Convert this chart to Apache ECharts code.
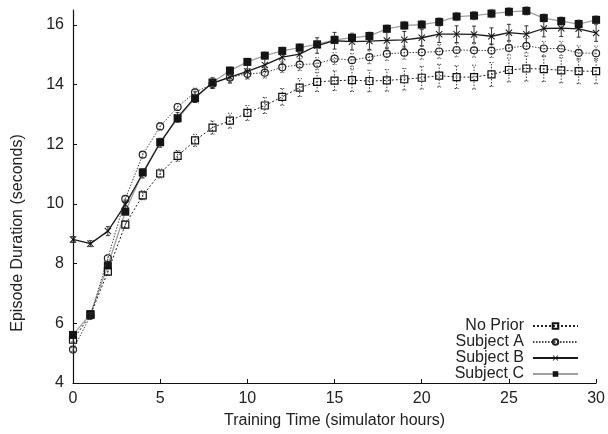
<!DOCTYPE html>
<html><head><meta charset="utf-8">
<script src="https://cdn.jsdelivr.net/npm/echarts@6/dist/echarts.min.js"></script>
<style>html,body{margin:0;padding:0;background:#fff}#c{width:608px;height:434px}</style>
</head><body><div id="c"></div>
<script>
const hours = [0,1,2,3,4,5,6,7,8,9,10,11,12,13,14,15,16,17,18,19,20,21,22,23,24,25,26,27,28,29,30];
const seriesNames = ['No Prior','Subject A','Subject B','Subject C'];
const noPrior  = [5.45,6.28,7.73,9.31,10.29,11.02,11.61,12.13,12.56,12.79,13.05,13.30,13.59,13.90,14.09,14.13,14.15,14.12,14.14,14.18,14.23,14.30,14.25,14.25,14.34,14.49,14.54,14.52,14.48,14.45,14.45];
const subjectA = [5.12,6.25,8.18,10.17,11.65,12.60,13.25,13.74,14.02,14.24,14.36,14.40,14.58,14.67,14.70,14.87,14.82,14.92,15.03,15.07,15.08,15.11,15.16,15.15,15.14,15.23,15.30,15.21,15.21,15.06,15.05];
const subjectB = [8.81,8.67,9.09,9.98,11.02,12.05,12.90,13.58,14.05,14.25,14.44,14.66,14.92,15.02,15.31,15.47,15.44,15.46,15.48,15.50,15.57,15.69,15.69,15.68,15.62,15.74,15.69,15.88,15.89,15.87,15.73];
const subjectC = [5.61,6.31,7.94,9.74,11.06,12.07,12.87,13.54,14.07,14.47,14.76,14.97,15.13,15.24,15.35,15.50,15.57,15.63,15.87,15.98,16.01,16.10,16.28,16.31,16.38,16.44,16.47,16.23,16.13,16.03,16.17];
const noPriorErr  = [0.08,0.10,0.12,0.12,0.15,0.15,0.18,0.20,0.22,0.25,0.25,0.27,0.28,0.30,0.32,0.33,0.38,0.36,0.36,0.36,0.38,0.38,0.38,0.40,0.40,0.40,0.42,0.42,0.42,0.42,0.42];
const subjectAErr = [0.06,0.08,0.10,0.10,0.10,0.12,0.12,0.14,0.15,0.16,0.18,0.18,0.18,0.20,0.20,0.20,0.22,0.22,0.22,0.22,0.23,0.23,0.23,0.23,0.23,0.24,0.24,0.24,0.24,0.24,0.24];
const subjectBErr = [0.10,0.10,0.15,0.15,0.15,0.15,0.16,0.18,0.18,0.20,0.22,0.22,0.24,0.25,0.26,0.28,0.28,0.28,0.28,0.28,0.28,0.28,0.28,0.28,0.28,0.28,0.28,0.28,0.28,0.28,0.28];
const subjectCErr = [0.06,0.06,0.08,0.08,0.10,0.10,0.10,0.10,0.12,0.12,0.12,0.12,0.12,0.13,0.13,0.13,0.13,0.13,0.13,0.14,0.14,0.14,0.14,0.14,0.14,0.14,0.14,0.14,0.14,0.14,0.14];
const xTicks = [0,5,10,15,20,25,30];
const yTicks = [4,6,8,10,12,14,16];

const FONT = 'Liberation Sans';
const TXT = '#222';

function pairs(vals){ return hours.map((h,i)=>[h, vals[i]]); }
function errData(vals, errs){ return hours.map((h,i)=>[h, vals[i]-errs[i], vals[i]+errs[i]]); }
function errRender(color, dash, width){
  return function(params, api){
    const x = api.value(0);
    const lo = api.coord([x, api.value(1)]);
    const hi = api.coord([x, api.value(2)]);
    const w = 2;
    const st = {stroke: color, lineWidth: width, lineDash: dash, fill: null};
    return {type:'group', children:[
      {type:'line', shape:{x1:lo[0], y1:lo[1], x2:hi[0], y2:hi[1]}, style: st},
      {type:'line', shape:{x1:lo[0]-w, y1:lo[1], x2:lo[0]+w, y2:lo[1]}, style: st},
      {type:'line', shape:{x1:hi[0]-w, y1:hi[1], x2:hi[0]+w, y2:hi[1]}, style: st}
    ]};
  };
}
const xMark = 'path://M0,1 L1,0 L5,4 L9,0 L10,1 L6,5 L10,9 L9,10 L5,6 L1,10 L0,9 L4,5 Z';

const chart = echarts.init(document.getElementById('c'), null, {renderer:'canvas'});
chart.setOption({
  animation: false,
  backgroundColor: '#fff',
  textStyle: {fontFamily: FONT},
  grid: {left: 73, right: 11, top: 10, bottom: 50, containLabel: false},
  xAxis: {
    type: 'value', min: 0, max: 30, interval: 5,
    axisLine: {show: true, lineStyle: {color: '#111', width: 1.2}},
    axisTick: {inside: true, length: 4, lineStyle: {color: '#111'}, customValues: xTicks},
    axisLabel: {color: TXT, fontSize: 16, fontFamily: FONT, margin: 8, customValues: xTicks},
    splitLine: {show: false},
    name: 'Training Time (simulator hours)', nameLocation: 'middle', nameGap: 30,
    nameTextStyle: {color: TXT, fontSize: 16, fontFamily: FONT}
  },
  yAxis: {
    type: 'value', min: 4, max: 16.5,
    axisLine: {show: true, onZero: false, lineStyle: {color: '#111', width: 1.2}},
    axisTick: {inside: true, length: 4, lineStyle: {color: '#111'}, customValues: yTicks},
    axisLabel: {color: TXT, fontSize: 16, fontFamily: FONT, margin: 9, customValues: yTicks},
    splitLine: {show: false}
  },
  graphic: [{
    type: 'text', x: 18, y: 233, rotation: Math.PI/2,
    style: {text: 'Episode Duration (seconds)', fill: TXT, font: '16px "Liberation Sans"', align: 'center', verticalAlign: 'middle'}
  }],
  legend: {
    orient: 'vertical', right: 29, top: 318, padding: 0,
    align: 'right', itemWidth: 45, itemHeight: 7, itemGap: 0,
    textStyle: {color: TXT, fontSize: 16, fontFamily: FONT, lineHeight: 16, padding: [0, 4, 0, 0]},
    data: seriesNames
  },
  series: [
    {type:'custom', name:'eNP', z:1, silent:true, renderItem: errRender('#333',[1.5,1.5],1), data: errData(noPrior, noPriorErr)},
    {type:'custom', name:'eA', z:1, silent:true, renderItem: errRender('#555',[1.5,1.5],1), data: errData(subjectA, subjectAErr)},
    {type:'custom', name:'eB', z:1, silent:true, renderItem: errRender('#333',null,1), data: errData(subjectB, subjectBErr)},
    {type:'custom', name:'eC', z:1, silent:true, renderItem: errRender('#999',null,1), data: errData(subjectC, subjectCErr)},
    {type:'line', name: seriesNames[0], z:3, data: pairs(noPrior), symbol:'rect', symbolSize:7,
      lineStyle:{color:'#222', width:1, type:[2,2]},
      itemStyle:{color:'rgba(255,255,255,0)', borderColor:'#111', borderWidth:1.2}},
    {type:'line', name: seriesNames[1], z:3, data: pairs(subjectA), symbol:'circle', symbolSize:7,
      lineStyle:{color:'#444', width:1, type:[1.5,1.5]},
      itemStyle:{color:'rgba(255,255,255,0)', borderColor:'#222', borderWidth:1.2}},
    {type:'line', name: seriesNames[2], z:3, data: pairs(subjectB), symbol: xMark, symbolSize:7,
      lineStyle:{color:'#1a1a1a', width:1.3},
      itemStyle:{color:'#111'}},
    {type:'line', name: seriesNames[3], z:2, data: pairs(subjectC), symbol:'rect', symbolSize:8,
      lineStyle:{color:'#a0a0a0', width:1.3},
      itemStyle:{color:'#151515'}}
  ]
});
</script>
</body></html>
